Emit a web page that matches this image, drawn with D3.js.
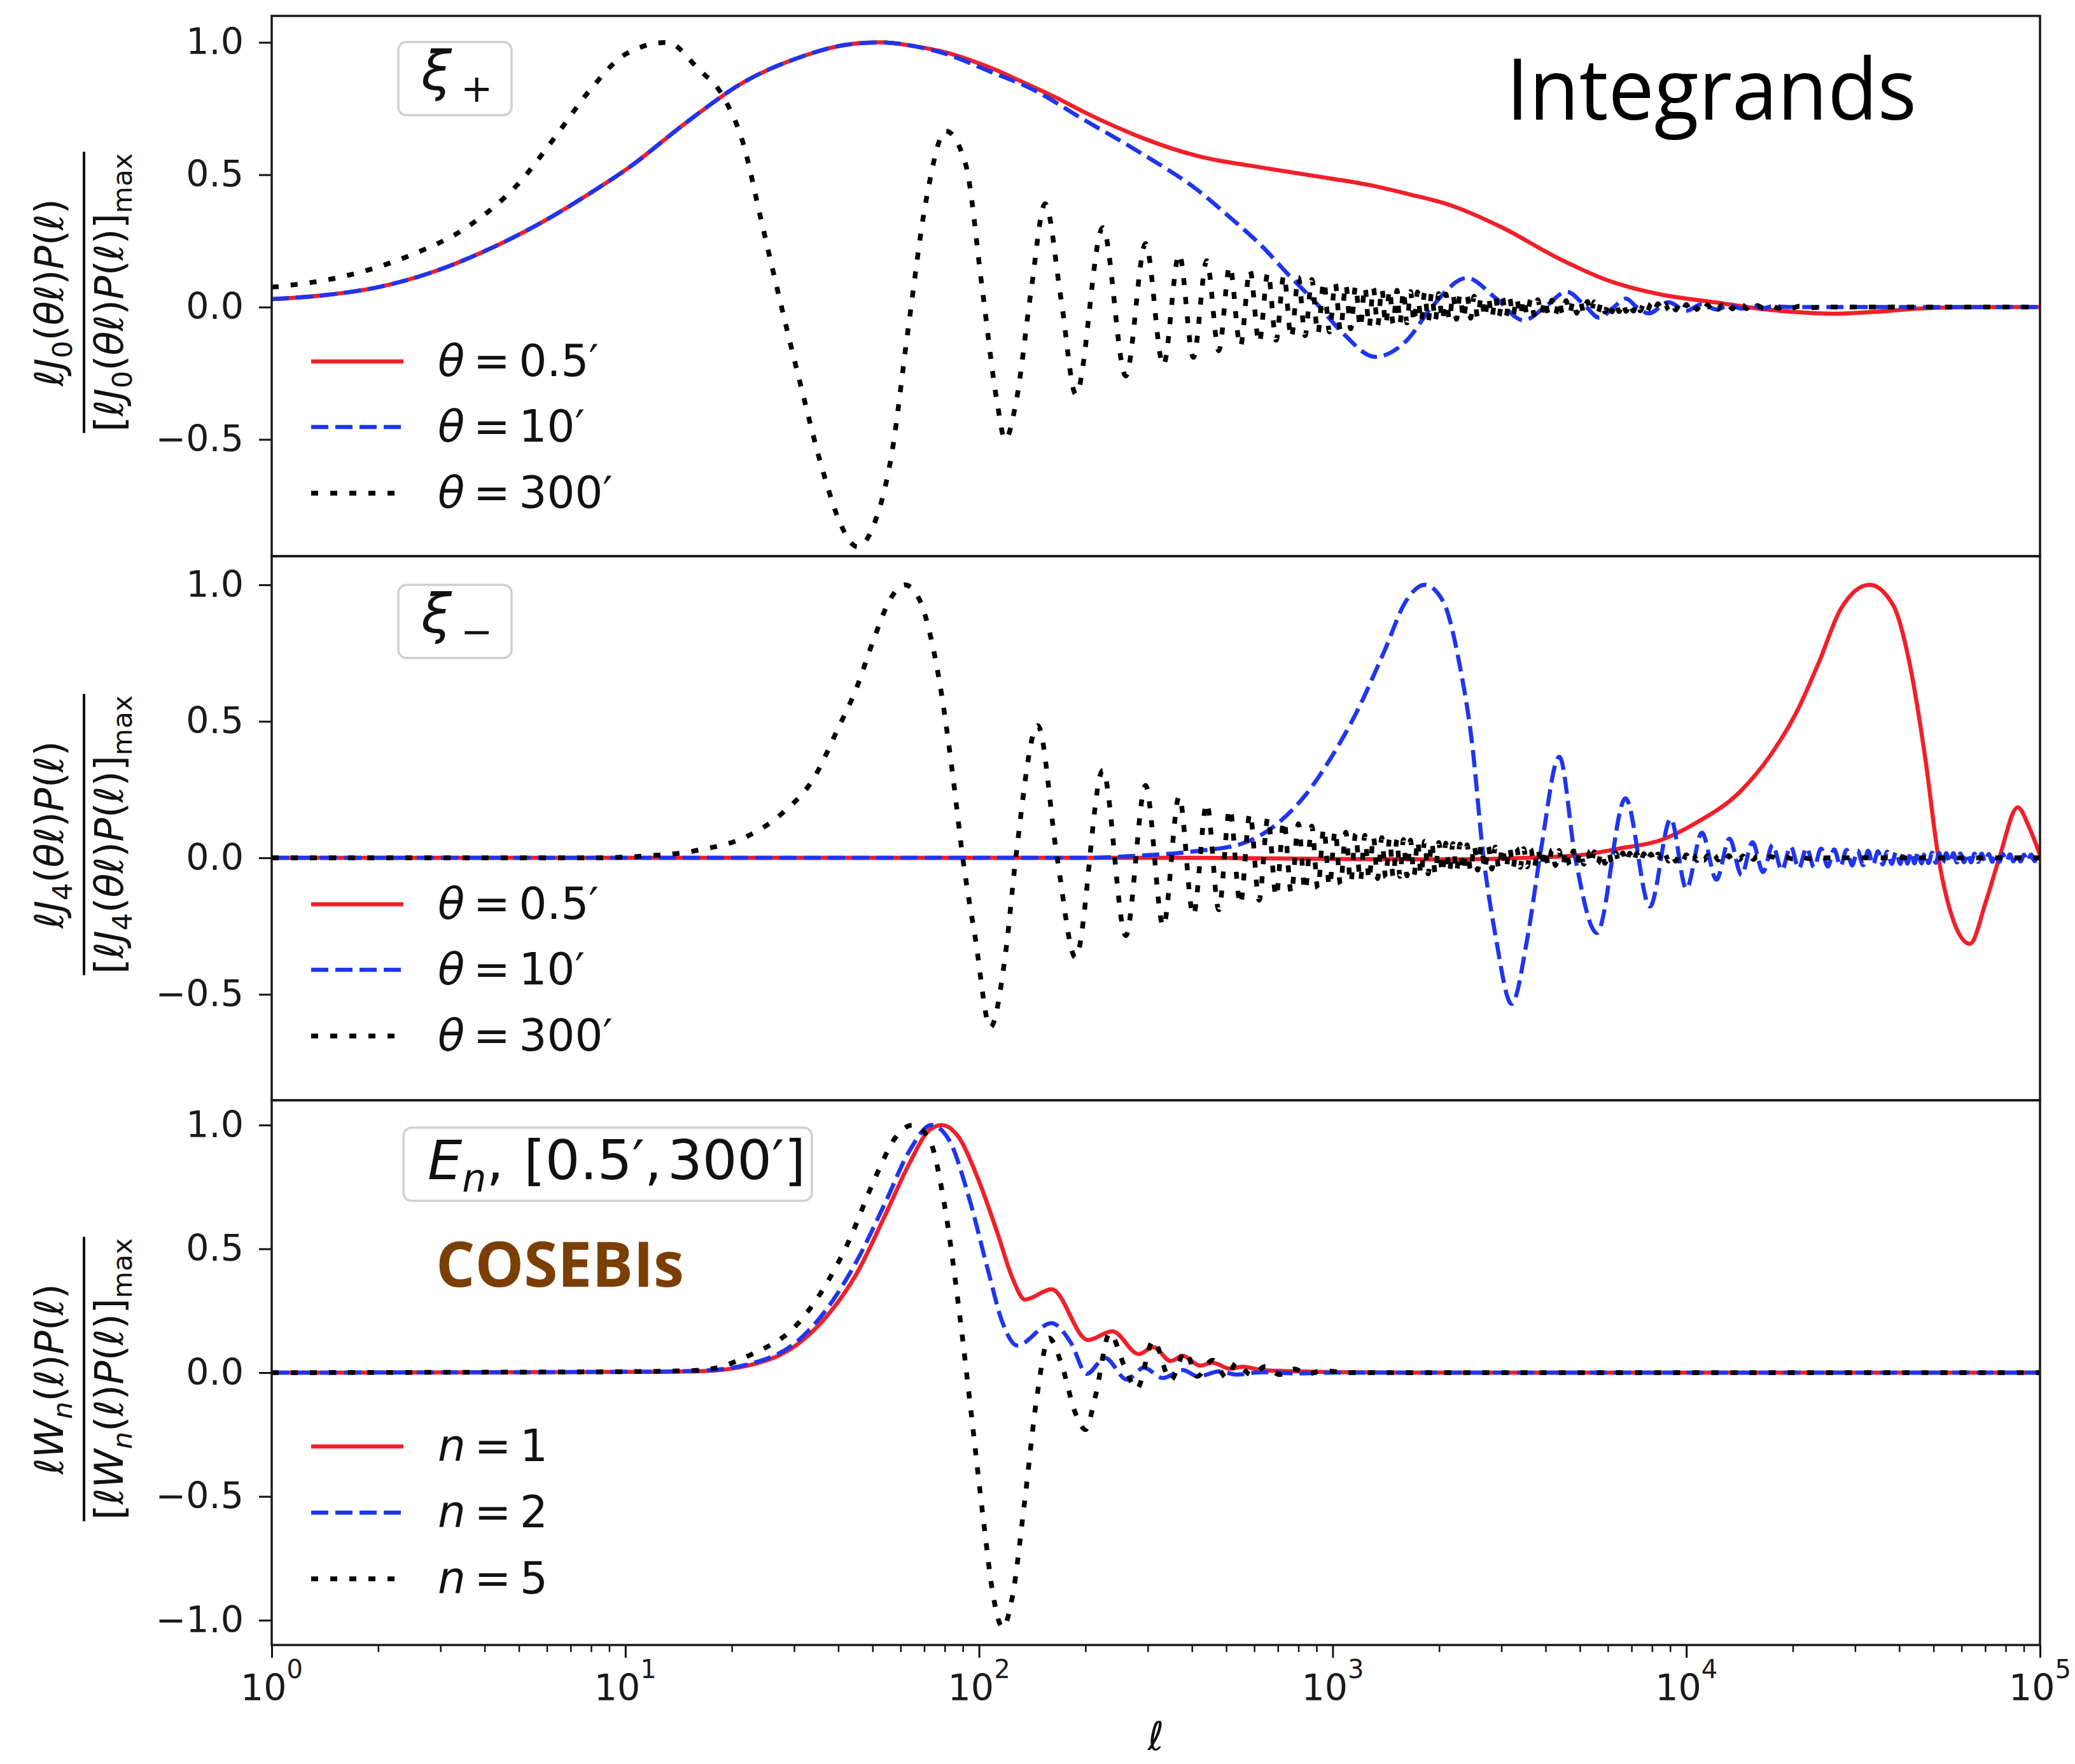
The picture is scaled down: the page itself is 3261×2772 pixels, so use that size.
<!DOCTYPE html>
<html><head><meta charset="utf-8">
<script src="https://cdn.jsdelivr.net/npm/d3@7"></script>
<style>html,body{margin:0;padding:0;background:#fff;overflow:hidden}svg{display:block}</style>
</head><body>
<script>
// ---------------- DATA (x = log10 ell, y = normalised integrand) ----------------
const xTickExponents = [0, 1, 2, 3, 4, 5];
const yTicksXi = [1.0, 0.5, 0.0, -0.5];
const yTicksCosebi = [1.0, 0.5, 0.0, -0.5, -1.0];
const thetaLabels = ["0.5′", "10′", "300′"];
const nLabels = ["1", "2", "5"];

// Panel 1: xi_+
const xiPlusTheta05 = [[0,0.03],[0.15,0.045],[0.3,0.075],[0.45,0.13],[0.6,0.21],[0.75,0.31],[0.9,0.43],[1.013,0.53],[1.175,0.70],[1.335,0.85],[1.496,0.945],[1.62,0.99],[1.72,1.0],[1.82,0.985],[1.897,0.965],[2.04,0.90],[2.14,0.84],[2.22,0.79],[2.30,0.735],[2.38,0.685],[2.46,0.64],[2.62,0.57],[2.80,0.527],[2.95,0.495],[3.10,0.462],[3.22,0.425],[3.33,0.386],[3.48,0.30],[3.63,0.19],[3.78,0.10],[3.93,0.047],[4.08,0.018],[4.2,-0.005],[4.3,-0.018],[4.42,-0.025],[4.53,-0.018],[4.68,-0.004],[4.85,0],[5,0]];
const xiPlusTheta10 = [[0,0.03],[0.15,0.045],[0.3,0.075],[0.45,0.13],[0.6,0.21],[0.75,0.31],[0.9,0.43],[1.013,0.53],[1.175,0.70],[1.335,0.85],[1.496,0.945],[1.62,0.99],[1.72,1.0],[1.82,0.985],[1.897,0.96],[2.04,0.885],[2.14,0.83],[2.30,0.705],[2.46,0.58],[2.62,0.44],[2.70,0.35],[2.80,0.23],[2.88,0.115],[2.95,0.02],[3.03,-0.10],[3.12,-0.188],[3.21,-0.125],[3.28,0.0],[3.38,0.11],[3.46,0.035],[3.54,-0.05],[3.60,0.0],[3.662,0.058],[3.71,0.01],[3.754,-0.04],[3.795,0.0],[3.829,0.032],[3.86,0.0],[3.894,-0.024],[3.95,0.018],[4.0,-0.014],[4.044,0.011],[4.085,-0.009],[4.122,0.007],[4.156,-0.006],[4.187,0.005],[4.217,-0.004],[4.244,0.003],[4.3,0],[5,0]];
const xiPlusTheta300 = [[0,0.075],[0.2,0.115],[0.4,0.2],[0.55,0.3],[0.7,0.47],[0.8,0.64],[0.9,0.82],[1.0,0.955],[1.118,1.0],[1.206,0.9],[1.279,0.79],[1.335,0.61],[1.383,0.334],[1.431,0.06],[1.496,-0.297],[1.56,-0.626],[1.608,-0.818],[1.656,-0.905],[1.704,-0.818],[1.753,-0.556],[1.8,-0.078],[1.85,0.4],[1.906,0.665],[1.962,0.54],[2.01,0.06],[2.05,-0.35],[2.074,-0.5],[2.106,-0.35],[2.147,0.06],[2.187,0.39],[2.232,0.03],[2.274,-0.33],[2.35,0.3],[2.415,-0.26],[2.471,0.24],[2.521,-0.22],[2.566,0.2],[2.606,-0.19],[2.644,0.175],[2.678,-0.165],[2.709,0.155],[2.739,-0.148],[2.766,0.14],[2.792,-0.135],[2.817,0.13],[2.84,-0.125],[2.862,0.12],[2.883,-0.116],[2.903,0.112],[2.922,-0.108],[2.941,0.104],[2.958,-0.1],[2.975,0.097],[2.991,-0.094],[3.007,0.091],[3.022,-0.088],[3.037,0.085],[3.051,-0.082],[3.065,0.08],[3.078,-0.078],[3.091,0.076],[3.103,-0.074],[3.115,0.072],[3.127,-0.07],[3.139,0.068],[3.15,-0.066],[3.161,0.065],[3.171,-0.064],[3.182,0.063],
[3.19,-0.062],[3.20,0.061],[3.21,-0.060],[3.22,0.059],[3.23,-0.058],[3.24,0.057],[3.25,-0.056],[3.26,0.055],[3.27,-0.054],[3.28,0.053],[3.29,-0.052],[3.30,0.051],[3.31,-0.050],[3.32,0.049],[3.33,-0.048],[3.34,0.047],[3.35,-0.046],[3.36,0.045],[3.37,-0.044],[3.38,0.043],[3.39,-0.042],[3.40,0.041],[3.41,-0.040],[3.42,0.040],[3.43,-0.039],[3.44,0.038],[3.45,-0.038],[3.46,0.037],[3.47,-0.036],[3.48,0.035],[3.49,-0.035],[3.50,0.034],[3.51,-0.033],[3.52,0.033],[3.53,-0.032],[3.54,0.031],[3.55,-0.031],[3.56,0.030],[3.57,-0.029],[3.58,0.028],[3.59,-0.028],[3.60,0.027],[3.61,-0.027],[3.62,0.026],[3.63,-0.026],[3.64,0.025],[3.65,-0.025],[3.66,0.024],[3.67,-0.024],[3.68,0.023],[3.69,-0.023],[3.70,0.022],[3.71,-0.022],[3.72,0.021],[3.73,-0.021],[3.74,0.020],[3.75,-0.020],[3.76,0.019],[3.77,-0.019],[3.78,0.018],[3.79,-0.018],[3.80,0.017],[3.81,-0.017],[3.82,0.016],[3.83,-0.016],[3.84,0.015],[3.85,-0.015],[3.86,0.015],[3.87,-0.014],[3.88,0.014],[3.89,-0.014],[3.90,0.013],[3.91,-0.013],[3.92,0.013],[3.93,-0.012],[3.94,0.012],[3.95,-0.012],[3.96,0.011],[3.97,-0.011],[3.98,0.011],[3.99,-0.010],[4.00,0.010],[4.01,-0.010],[4.02,0.010],[4.03,-0.009],[4.04,0.009],[4.05,-0.009],[4.06,0.009],[4.07,-0.008],[4.08,0.008],[4.09,-0.008],[4.10,0.008],[4.11,-0.008],[4.12,0.007],[4.13,-0.007],[4.14,0.007],[4.15,-0.007],[4.16,0.007],[4.17,-0.006],[4.18,0.006],[4.19,-0.006],[4.20,0.006],[4.22,-0.005],[4.24,0.005],[4.26,-0.004],[4.28,0.004],[4.30,-0.003],[4.32,0.003],[4.35,-0.002],[4.40,0],[5,0]];

// Panel 2: xi_-
const xiMinusTheta05 = [[0,0],[2.6,0],[3.0,-0.004],[3.3,-0.006],[3.55,0],[3.7,0.01],[3.81,0.034],[3.93,0.066],[4.03,0.13],[4.15,0.24],[4.24,0.38],[4.316,0.545],[4.376,0.72],[4.436,0.91],[4.518,1.0],[4.585,0.925],[4.63,0.72],[4.675,0.37],[4.713,0],[4.75,-0.21],[4.802,-0.315],[4.847,-0.16],[4.885,0],[4.937,0.185],[4.97,0.11],[5,0.01]];
const xiMinusTheta10 = [[0,0],[2.3,0],[2.45,0.008],[2.55,0.016],[2.617,0.025],[2.743,0.052],[2.848,0.13],[2.923,0.23],[2.997,0.37],[3.072,0.545],[3.147,0.76],[3.207,0.94],[3.26,1.0],[3.312,0.94],[3.357,0.72],[3.395,0.41],[3.424,0.03],[3.461,-0.29],[3.506,-0.535],[3.551,-0.29],[3.589,0.03],[3.641,0.37],[3.686,0],[3.747,-0.275],[3.828,0.218],[3.897,-0.178],[3.956,0.143],[4.0,-0.113],[4.044,0.092],[4.085,-0.08],[4.122,0.07],[4.156,-0.063],[4.187,0.057],[4.217,-0.052],[4.244,0.048],[4.270,-0.045],[4.295,0.042],[4.318,-0.039],[4.340,0.037],[4.361,-0.035],[4.381,0.034],[4.400,-0.032],[4.418,0.031],[4.436,-0.030],[4.453,0.029],[4.469,-0.028],[4.484,0.027],[4.500,-0.027],[4.514,0.026],[4.528,-0.025],[4.542,0.024],[4.555,-0.024],[4.568,0.023],[4.581,-0.022],[4.593,0.022],[4.605,-0.022],[4.615,0.021],[4.625,-0.021],[4.635,0.021],[4.645,-0.020],[4.655,0.020],[4.665,-0.020],[4.675,0.019],[4.685,-0.019],[4.695,0.019],[4.705,-0.018],[4.715,0.018],[4.725,-0.018],[4.735,0.017],[4.745,-0.017],[4.755,0.017],[4.765,-0.017],[4.775,0.016],[4.785,-0.016],[4.795,0.016],[4.805,-0.016],[4.815,0.015],[4.825,-0.015],[4.835,0.015],[4.845,-0.015],[4.855,0.014],[4.865,-0.014],[4.875,0.014],[4.885,-0.014],[4.895,0.014],[4.905,-0.013],[4.915,0.013],[4.925,-0.013],[4.935,0.013],[4.945,-0.013],[4.955,0.012],[4.965,-0.012],[4.975,0.012],[4.985,-0.012],[4.995,0.012],[5,0.005]];
const xiMinusTheta300 = [[0,0],[0.9,0],[1.033,0.005],[1.205,0.028],[1.343,0.078],[1.446,0.166],[1.532,0.29],[1.6,0.47],[1.653,0.62],[1.705,0.81],[1.75,0.95],[1.79,1.0],[1.83,0.95],[1.865,0.8],[1.894,0.6],[1.928,0.28],[1.954,0],[1.989,-0.29],[2.032,-0.62],[2.075,-0.35],[2.104,0],[2.166,0.485],[2.221,0],[2.273,-0.365],[2.35,0.32],[2.415,-0.285],[2.471,0.265],[2.521,-0.25],[2.566,0.225],[2.606,-0.21],[2.644,0.2],[2.678,-0.19],[2.709,0.18],[2.739,-0.17],[2.766,0.162],[2.792,-0.155],[2.817,0.148],[2.84,-0.142],[2.862,0.136],[2.883,-0.13],[2.903,0.125],[2.922,-0.12],[2.941,0.116],[2.958,-0.112],[2.975,0.108],[2.991,-0.104],[3.007,0.1],[3.022,-0.097],[3.037,0.094],[3.051,-0.091],[3.065,0.088],[3.078,-0.085],[3.091,0.082],[3.103,-0.08],[3.115,0.078],[3.127,-0.076],[3.139,0.074],[3.15,-0.072],[3.161,0.07],[3.171,-0.069],[3.182,0.068],
[3.19,-0.068],[3.20,0.067],[3.21,-0.066],[3.22,0.065],[3.23,-0.064],[3.24,0.063],[3.25,-0.062],[3.26,0.061],[3.27,-0.059],[3.28,0.058],[3.29,-0.057],[3.30,0.056],[3.31,-0.055],[3.32,0.054],[3.33,-0.053],[3.34,0.052],[3.35,-0.051],[3.36,0.050],[3.37,-0.049],[3.38,0.048],[3.39,-0.047],[3.40,0.046],[3.41,-0.045],[3.42,0.044],[3.43,-0.043],[3.44,0.042],[3.45,-0.041],[3.46,0.040],[3.47,-0.040],[3.48,0.039],[3.49,-0.038],[3.50,0.037],[3.51,-0.036],[3.52,0.036],[3.53,-0.035],[3.54,0.034],[3.55,-0.033],[3.56,0.033],[3.57,-0.032],[3.58,0.031],[3.59,-0.030],[3.60,0.030],[3.61,-0.029],[3.62,0.029],[3.63,-0.028],[3.64,0.027],[3.65,-0.027],[3.66,0.026],[3.67,-0.026],[3.68,0.025],[3.69,-0.024],[3.70,0.024],[3.71,-0.023],[3.72,0.023],[3.73,-0.022],[3.74,0.022],[3.75,-0.021],[3.76,0.021],[3.77,-0.020],[3.78,0.020],[3.79,-0.019],[3.80,0.019],[3.81,-0.018],[3.82,0.018],[3.83,-0.017],[3.84,0.017],[3.85,-0.016],[3.86,0.016],[3.87,-0.016],[3.88,0.015],[3.89,-0.015],[3.90,0.014],[3.91,-0.014],[3.92,0.014],[3.93,-0.013],[3.94,0.013],[3.95,-0.012],[3.96,0.012],[3.97,-0.012],[3.98,0.011],[3.99,-0.011],[4.00,0.011],[4.01,-0.010],[4.02,0.010],[4.03,-0.010],[4.04,0.010],[4.05,-0.009],[4.06,0.009],[4.07,-0.009],[4.08,0.009],[4.09,-0.008],[4.10,0.008],[4.11,-0.008],[4.12,0.008],[4.13,-0.007],[4.14,0.007],[4.15,-0.007],[4.16,0.007],[4.17,-0.007],[4.18,0.006],[4.19,-0.006],[4.20,0.006],[4.22,-0.005],[4.24,0.005],[4.26,-0.005],[4.28,0.004],[4.30,-0.004],[4.32,0.003],[4.35,-0.003],[4.40,0],[5,0]];

// Panel 3: COSEBIs
const cosebiN1 = [[0,0],[1.0,0.003],[1.213,0.006],[1.351,0.03],[1.489,0.117],[1.571,0.23],[1.654,0.40],[1.736,0.64],[1.805,0.85],[1.86,0.98],[1.895,1.0],[1.943,0.95],[1.998,0.78],[2.053,0.56],[2.095,0.38],[2.13,0.295],[2.205,0.337],[2.308,0.132],[2.377,0.167],[2.452,0.075],[2.493,0.103],[2.542,0.047],[2.576,0.068],[2.625,0.028],[2.66,0.04],[2.71,0.016],[2.745,0.024],[2.8,0.01],[2.9,0.005],[3.0,0.002],[3.2,0],[5,0]];
const cosebiN2 = [[0,0],[1.0,0.003],[1.213,0.008],[1.351,0.035],[1.489,0.13],[1.571,0.26],[1.654,0.45],[1.736,0.69],[1.805,0.9],[1.865,1.0],[1.915,0.94],[1.971,0.71],[2.026,0.41],[2.067,0.2],[2.108,0.11],[2.205,0.2],[2.26,0.12],[2.305,-0.005],[2.356,0.06],[2.418,-0.028],[2.466,0.02],[2.52,-0.022],[2.576,0.01],[2.62,-0.015],[2.68,0.005],[2.73,-0.008],[2.8,0.002],[2.9,-0.003],[3.0,0],[5,0]];
const cosebiN5 = [[0,0],[1.0,0.004],[1.213,0.01],[1.351,0.07],[1.489,0.2],[1.626,0.513],[1.709,0.795],[1.764,0.95],[1.812,1.0],[1.86,0.94],[1.902,0.68],[1.943,0.26],[1.978,-0.165],[2.012,-0.59],[2.04,-0.9],[2.067,-1.03],[2.095,-0.9],[2.129,-0.52],[2.164,-0.095],[2.198,0.14],[2.232,0.04],[2.273,-0.165],[2.301,-0.23],[2.329,-0.095],[2.37,0.16],[2.41,0.03],[2.446,-0.066],[2.493,0.13],[2.542,-0.03],[2.583,0.085],[2.617,-0.015],[2.66,0.05],[2.7,-0.02],[2.728,0.04],[2.77,-0.01],[2.81,0.025],[2.85,-0.008],[2.89,0.015],[2.93,-0.005],[2.97,0.008],[3.05,0],[5,0]];

// ---------------- LAYOUT ----------------
const W = 3261, H = 2772;
const X0 = 427, X1 = 3206;
const FONT = "DejaVu Sans";
const RED = "#f0202a", BLUE = "#1f35ee", BLACK = "#000";
const styles = [
  {color: RED, w: 6.5, dash: null},
  {color: BLUE, w: 6.5, dash: "27 11"},
  {color: BLACK, w: 7.5, dash: "11 19"}
];

const panels = [
  {top: 25, bottom: 874, domain: [-0.941, 1.10], ticks: yTicksXi,
   series: [xiPlusTheta05, xiPlusTheta10, xiPlusTheta300], labels: thetaLabels, sym: "θ",
   legendY: [568, 671, 775], ylab: "J", ysub: "0"},
  {top: 874, bottom: 1729, domain: [-0.888, 1.105], ticks: yTicksXi,
   series: [xiMinusTheta05, xiMinusTheta10, xiMinusTheta300], labels: thetaLabels, sym: "θ",
   legendY: [1421, 1524, 1628], ylab: "J", ysub: "4"},
  {top: 1729, bottom: 2585, domain: [-1.1, 1.1], ticks: yTicksCosebi,
   series: [cosebiN1, cosebiN2, cosebiN5], labels: nLabels, sym: "n",
   legendY: [2273, 2377, 2481], ylab: "W", ysub: "n"}
];

const svg = d3.select("body").append("svg")
  .attr("width", W).attr("height", H).attr("viewBox", `0 0 ${W} ${H}`)
  .attr("font-family", FONT);
svg.append("rect").attr("width", W).attr("height", H).attr("fill", "#fff");
const defs = svg.append("defs");

const x = d3.scaleLog().domain([1, 1e5]).range([X0, X1]);

function rich(textSel, segs, fs) {
  let shift = 0;
  segs.forEach(s => {
    const small = s.sub || s.sup;
    const target = s.sub ? fs * 0.22 : (s.sup ? -fs * 0.42 : 0);
    const ts = textSel.append("tspan").text(s.t)
      .attr("font-size", small ? fs * 0.7 : fs)
      .attr("font-style", s.it ? "italic" : "normal");
    if (target !== shift) { ts.attr("dy", target - shift); shift = target; }
    if (s.dx) ts.attr("dx", s.dx);
  });
}

panels.forEach((p, i) => {
  const y = d3.scaleLinear().domain(p.domain).range([p.bottom, p.top]);
  const g = svg.append("g");
  const clipId = "clip" + i;
  defs.append("clipPath").attr("id", clipId).append("rect")
    .attr("x", X0).attr("y", p.top).attr("width", X1 - X0).attr("height", p.bottom - p.top);

  const line = d3.line().x(d => x(Math.pow(10, d[0]))).y(d => y(d[1])).curve(d3.curveMonotoneX);
  const lg = g.append("g").attr("clip-path", `url(#${clipId})`);
  p.series.forEach((data, k) => {
    const st = styles[k];
    lg.append("path").attr("d", line(data)).attr("fill", "none")
      .attr("stroke", st.color).attr("stroke-width", st.w)
      .attr("stroke-dasharray", st.dash);
  });

  // y axis
  const ya = g.append("g").attr("transform", `translate(${X0},0)`)
    .call(d3.axisLeft(y).tickValues(p.ticks).tickSize(20).tickPadding(24).tickFormat(d3.format(".1f")));
  ya.select(".domain").remove();
  ya.attr("font-family", FONT);
  ya.selectAll("line").attr("stroke", "#111").attr("stroke-width", 3);
  ya.selectAll("text").attr("font-size", 57).attr("fill", "#1a1a1a");

  // frame
  g.append("rect").attr("x", X0).attr("y", p.top).attr("width", X1 - X0).attr("height", p.bottom - p.top)
    .attr("fill", "none").attr("stroke", "#1a1a1a").attr("stroke-width", 3.5);

  // legend (frameless)
  p.labels.forEach((lab, k) => {
    const st = styles[k];
    const ly = p.legendY[k];
    g.append("line").attr("x1", 489).attr("x2", 634).attr("y1", ly).attr("y2", ly)
      .attr("stroke", st.color).attr("stroke-width", st.w).attr("stroke-dasharray", st.dash);
    const t = g.append("text").attr("x", 688).attr("y", ly + 23).attr("fill", "#111").attr("font-size", 69);
    rich(t, [{t: p.sym, it: true}, {t: "\u2009=\u2009" + lab}], 69);
  });

  // y label (fraction)
  const cy = (p.top + p.bottom) / 2 + 10;
  const yl = svg.append("g").attr("transform", `translate(132,${cy}) rotate(-90)`).attr("fill", "#111");
  const core = p.ylab === "J"
    ? [{t: "ℓJ", it: true}, {t: p.ysub, sub: true}, {t: "("}, {t: "θℓ", it: true}, {t: ")"}, {t: "P", it: true}, {t: "("}, {t: "ℓ", it: true}, {t: ")"}]
    : [{t: "ℓW", it: true}, {t: "n", it: true, sub: true}, {t: "("}, {t: "ℓ", it: true}, {t: ")"}, {t: "P", it: true}, {t: "("}, {t: "ℓ", it: true}, {t: ")"}];
  const num = yl.append("text").attr("x", 0).attr("y", -33).attr("text-anchor", "middle").attr("font-size", 62);
  rich(num, core, 62);
  const den = yl.append("text").attr("x", 0).attr("y", 61).attr("text-anchor", "middle").attr("font-size", 62);
  rich(den, [{t: "["}].concat(core, [{t: "]"}, {t: "max", sub: true}]), 62);
  const dw = den.node().getComputedTextLength();
  yl.append("line").attr("x1", -dw / 2 - 2).attr("x2", dw / 2 + 2).attr("y1", 0).attr("y2", 0)
    .attr("stroke", "#111").attr("stroke-width", 4);
});

// x axis on bottom panel
const bottomY = panels[2].bottom;
const xa = svg.append("g").attr("transform", `translate(0,${bottomY})`)
  .call(d3.axisBottom(x).tickValues(xTickExponents.map(e => Math.pow(10, e))).tickSize(20).tickFormat(""));
xa.select(".domain").remove();
xa.selectAll("line").attr("stroke", "#111").attr("stroke-width", 3);
const minorTicks = [];
for (let e = 0; e < 5; e++) for (let m = 2; m <= 9; m++) minorTicks.push(m * Math.pow(10, e));
const xm = svg.append("g").attr("transform", `translate(0,${bottomY})`)
  .call(d3.axisBottom(x).tickValues(minorTicks).tickSize(11).tickFormat(""));
xm.select(".domain").remove();
xm.selectAll("line").attr("stroke", "#111").attr("stroke-width", 2.5);

xTickExponents.forEach(e => {
  const t = svg.append("text").attr("x", x(Math.pow(10, e))).attr("y", 2672)
    .attr("text-anchor", "middle").attr("font-size", 57).attr("fill", "#1a1a1a");
  t.append("tspan").text("10");
  t.append("tspan").text(String(e)).attr("font-size", 40).attr("dy", -35);
});
svg.append("text").attr("x", (X0 + X1) / 2).attr("y", 2750).attr("text-anchor", "middle")
  .attr("font-size", 62).attr("font-style", "italic").attr("fill", "#111").text("ℓ");

// annotation boxes
function box(xp, yp, w, h) {
  svg.append("rect").attr("x", xp).attr("y", yp).attr("width", w).attr("height", h).attr("rx", 13)
    .attr("fill", "#fff").attr("fill-opacity", 0.85).attr("stroke", "#cfcfcf").attr("stroke-width", 3.5);
}
box(626, 66, 178, 115);
let tb = svg.append("text").attr("x", 662).attr("y", 141).attr("font-size", 86).attr("fill", "#111");
rich(tb, [{t: "ξ", it: true}, {t: "+", sub: true, dx: 14}], 86);
box(626, 919, 178, 115);
tb = svg.append("text").attr("x", 662).attr("y", 994).attr("font-size", 86).attr("fill", "#111");
rich(tb, [{t: "ξ", it: true}, {t: "−", sub: true, dx: 14}], 86);
box(634, 1772, 642, 115);
tb = svg.append("text").attr("x", 672).attr("y", 1853).attr("font-size", 86).attr("fill", "#111");
rich(tb, [{t: "E", it: true}, {t: "n", it: true, sub: true}, {t: ","}, {t: " [0.5′,\u200A300′]", dx: 4}], 86);

// overlay titles
svg.append("text").attr("x", 2367).attr("y", 188).attr("font-family", "Open Sans")
  .attr("font-size", 134).attr("fill", "#000").attr("textLength", 645).attr("lengthAdjust", "spacingAndGlyphs")
  .text("Integrands");
svg.append("text").attr("x", 685).attr("y", 2022).attr("font-family", "Open Sans").attr("font-weight", 700)
  .attr("font-size", 98).attr("fill", "#7b3f04").attr("textLength", 390).attr("lengthAdjust", "spacingAndGlyphs")
  .text("COSEBIs");
</script>
</body></html>
